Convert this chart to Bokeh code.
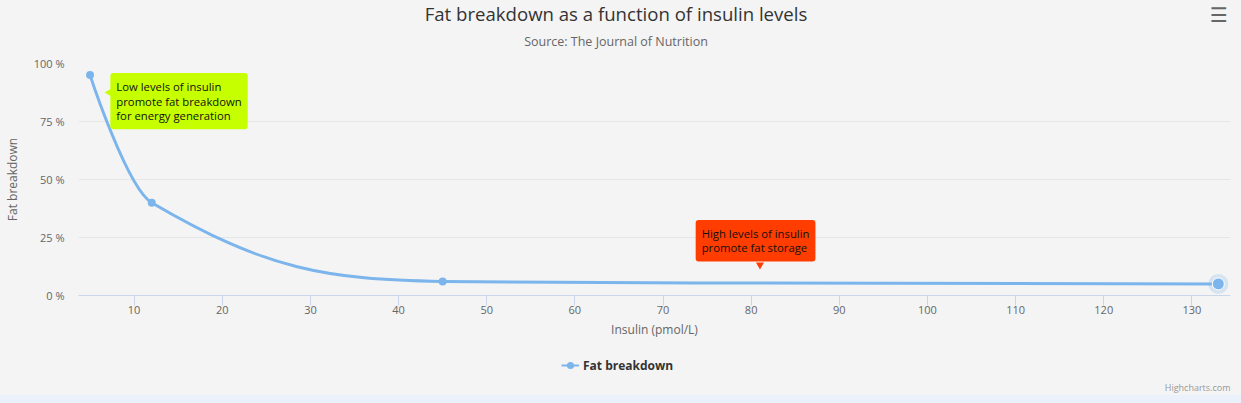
import math
from bokeh.plotting import figure
from bokeh.models import (Range1d, FixedTicker, PrintfTickFormatter, Label,
                          Legend, LegendItem, Div)
from bokeh.layouts import column
from bokeh.embed import file_html
from bokeh.resources import INLINE

# ---------------- data ----------------
title_text = "Fat breakdown as a function of insulin levels"
subtitle_text = "Source: The Journal of Nutrition"
series_name = "Fat breakdown"
x_title = "Insulin (pmol/L)"
y_title = "Fat breakdown"
credits_text = "Highcharts.com"

insulin = [5, 12, 45, 133]
fat_breakdown = [95, 40, 6, 5]
hover_index = 3

x_ticks = [10, 20, 30, 40, 50, 60, 70, 80, 90, 100, 110, 120, 130]
y_ticks = [0, 25, 50, 75, 100]

note_low_text = "Low levels of insulin\npromote fat breakdown\nfor energy generation"
note_low_x = 7.3
note_low_y = 87.5
note_high_text = "High levels of insulin\npromote fat storage"
note_high_x = 81.0
note_high_y = 13.2

# ---------------- style ----------------
BG = "#f4f4f4"
SERIES = "#7cb5ec"
FONT = "Open Sans"
W = 1241


def spline_segments(xs, ys, smoothing=1.5):
    """Control points of a Highcharts-like spline through the data points."""
    denom = smoothing + 1
    n = len(xs)
    left = [None] * n
    right = [None] * n
    for i in range(1, n - 1):
        px, py = xs[i], ys[i]
        lx, ly = xs[i - 1], ys[i - 1]
        nx, ny = xs[i + 1], ys[i + 1]
        lcx = (smoothing * px + lx) / denom
        lcy = (smoothing * py + ly) / denom
        rcx = (smoothing * px + nx) / denom
        rcy = (smoothing * py + ny) / denom
        if rcx != lcx:
            corr = ((rcy - lcy) * (rcx - px)) / (rcx - lcx) + py - rcy
            lcy += corr
            rcy += corr
        if lcy > ly and lcy > py:
            lcy = max(ly, py)
            rcy = 2 * py - lcy
        elif lcy < ly and lcy < py:
            lcy = min(ly, py)
            rcy = 2 * py - lcy
        if rcy > ny and rcy > py:
            rcy = max(ny, py)
            lcy = 2 * py - rcy
        elif rcy < ny and rcy < py:
            rcy = min(ny, py)
            lcy = 2 * py - rcy
        left[i] = (lcx, lcy)
        right[i] = (rcx, rcy)
    seg = dict(x0=[], y0=[], x1=[], y1=[], cx0=[], cy0=[], cx1=[], cy1=[])
    for i in range(1, n):
        c0 = right[i - 1] or (xs[i - 1], ys[i - 1])
        c1 = left[i] or (xs[i], ys[i])
        seg["x0"].append(xs[i - 1]); seg["y0"].append(ys[i - 1])
        seg["x1"].append(xs[i]); seg["y1"].append(ys[i])
        seg["cx0"].append(c0[0]); seg["cy0"].append(c0[1])
        seg["cx1"].append(c1[0]); seg["cy1"].append(c1[1])
    return seg


def blank_band(height):
    """A figure without axes whose frame fills the canvas (pixel coordinates, y down)."""
    f = figure(width=W, height=height, output_backend="svg", toolbar_location=None,
               x_range=Range1d(0, W), y_range=Range1d(height, 0),
               x_axis_type=None, y_axis_type=None, min_border=0, title=None,
               frame_align=False,
               background_fill_color=BG, border_fill_color=BG, outline_line_color=None)
    f.grid.visible = False
    return f


# ---------------- header: title, subtitle, menu ----------------
head = blank_band(55)
head.add_layout(Label(x=615.5, y=12.8, text=title_text, text_align="center",
                      text_baseline="middle", text_font=FONT,
                      text_font_size="18.6px", text_color="#333333"))
head.add_layout(Label(x=615.5, y=40.8, text=subtitle_text, text_align="center",
                      text_baseline="middle", text_font=FONT,
                      text_font_size="12.5px", text_color="#666666"))
head.add_layout(Label(x=1218.5, y=14.5, text="\u2630", text_align="center",
                      text_baseline="middle", text_font="DejaVu Sans",
                      text_font_style="bold",
                      text_font_size="20px", text_color="#666666"))

# ---------------- main chart ----------------
p = figure(width=W, height=290, output_backend="svg", toolbar_location=None,
           x_range=Range1d(3.69, 134.38), y_range=Range1d(0, 100),
           min_border_left=76, min_border_right=11, min_border_top=8,
           min_border_bottom=50, background_fill_color=BG, frame_align=False,
           border_fill_color=BG, outline_line_color=None, title=None)

p.xgrid.grid_line_color = None
p.ygrid.grid_line_color = "#e6e6e6"
p.ygrid.ticker = FixedTicker(ticks=y_ticks)

xa = p.xaxis[0]
xa.ticker = FixedTicker(ticks=x_ticks)
xa.axis_line_color = "#ccd6eb"
xa.major_tick_line_color = "#ccd6eb"
xa.major_tick_out = 10
xa.major_tick_in = 0
xa.minor_tick_line_color = None
xa.major_label_text_font = FONT
xa.major_label_text_font_size = "11px"
xa.major_label_text_color = "#666666"
xa.major_label_standoff = 0
xa.axis_label = x_title
xa.axis_label_text_font = FONT
xa.axis_label_text_font_size = "12px"
xa.axis_label_text_font_style = "normal"
xa.axis_label_text_color = "#666666"
xa.axis_label_standoff = 4

ya = p.yaxis[0]
ya.ticker = FixedTicker(ticks=y_ticks)
ya.formatter = PrintfTickFormatter(format="%d %%")
ya.axis_line_color = None
ya.major_tick_line_color = None
ya.minor_tick_line_color = None
ya.major_tick_out = 0
ya.major_tick_in = 0
ya.major_label_text_font = FONT
ya.major_label_text_font_size = "11px"
ya.major_label_text_color = "#666666"
ya.major_label_standoff = 14
ya.axis_label = y_title
ya.axis_label_text_font = FONT
ya.axis_label_text_font_size = "12px"
ya.axis_label_text_font_style = "normal"
ya.axis_label_text_color = "#666666"
ya.axis_label_standoff = 10

seg = spline_segments(insulin, fat_breakdown)
p.bezier(source=seg, x0="x0", y0="y0", x1="x1", y1="y1",
         cx0="cx0", cy0="cy0", cx1="cx1", cy1="cy1",
         line_color=SERIES, line_width=3, line_cap="round")

normal_x = [v for i, v in enumerate(insulin) if i != hover_index]
normal_y = [v for i, v in enumerate(fat_breakdown) if i != hover_index]
p.scatter(normal_x, normal_y, size=8, fill_color=SERIES, line_color=None)
p.scatter([insulin[hover_index]], [fat_breakdown[hover_index]], size=20,
          fill_color=SERIES, fill_alpha=0.25, line_color=None)
p.scatter([insulin[hover_index]], [fat_breakdown[hover_index]], size=12,
          fill_color=SERIES, line_color="#ffffff", line_width=1)

# annotations
p.scatter([note_low_x], [note_low_y], marker="triangle", angle=math.pi / 2,
          size=10, fill_color="#C6FF00", line_color=None)
p.add_layout(Label(x=note_low_x, y=note_low_y, text=note_low_text,
                   x_offset=0, y_offset=19.4, text_align="left", text_baseline="top",
                   padding=6, background_fill_color="#C6FF00", border_radius=3,
                   text_font=FONT, text_font_size="11.3px", text_line_height=0.97,
                   text_color="#111111"))
p.scatter([note_high_x], [note_high_y], marker="inverted_triangle",
          size=8, fill_color="#FF3D00", line_color=None)
p.add_layout(Label(x=note_high_x, y=note_high_y, text=note_high_text,
                   x_offset=-64.3, y_offset=45, text_align="left", text_baseline="top",
                   padding=6, background_fill_color="#FF3D00", border_radius=3,
                   text_font=FONT, text_font_size="11.3px", text_line_height=0.97,
                   text_color="#111111"))

# ---------------- footer: legend and credits ----------------
foot = blank_band(50)
# hidden copies of the series, only used to draw the legend symbol
leg_line = foot.line(insulin, fat_breakdown, line_color=SERIES, line_width=2, visible=False)
leg_mark = foot.scatter(insulin, fat_breakdown, size=8, fill_color=SERIES,
                        line_color=None, visible=False)
legend = Legend(items=[LegendItem(label=series_name, renderers=[leg_line, leg_mark])],
                location=(561, 20), orientation="horizontal",
                glyph_width=18, glyph_height=20, label_standoff=4,
                padding=0, margin=0, border_line_color=None,
                background_fill_alpha=0, inactive_fill_alpha=0,
                label_text_font=FONT,
                label_text_font_style="bold", label_text_font_size="12px",
                label_text_color="#333333")
foot.add_layout(legend)
foot.add_layout(Label(x=1230, y=41.5, text=credits_text, text_align="right",
                      text_baseline="middle", text_font=FONT,
                      text_font_size="9px", text_color="#999999"))

strip = Div(text="", width=W, height=8, margin=0,
            styles={"background-color": "#eaf1fb"})

layout = column(head, p, foot, strip, spacing=0,
                styles={"background-color": BG})
open("out.html", "w").write(file_html(layout, INLINE))
